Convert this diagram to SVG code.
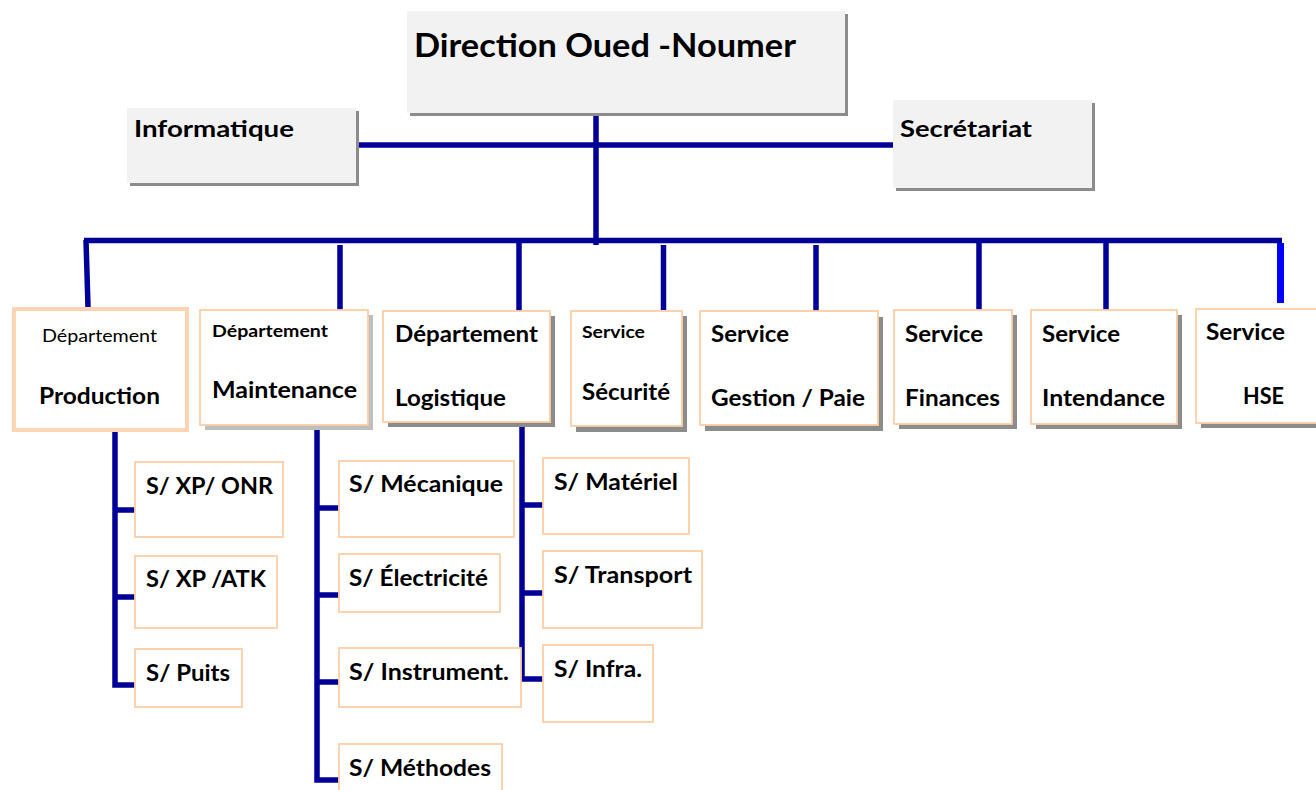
<svg xmlns="http://www.w3.org/2000/svg" width="1316" height="790" viewBox="0 0 1316 790">
<style>
text{font-family:Lato,"Liberation Sans",sans-serif;font-weight:bold;fill:#000}
.reg{font-weight:normal}
.top{fill:#f2f2f2;stroke:none}
.sh{fill:#8c8c8c}
.shl{fill:#bfbfbf}
.box{fill:#fff;stroke:#fbd0a6;stroke-width:1.8}
.ln{stroke:#000099;stroke-width:5.5;fill:none}
</style>
<rect width="1316" height="790" fill="#fff"/>
<g id="connectors">
<line class="ln" x1="357" y1="145" x2="893" y2="145"/>
<line class="ln" x1="596" y1="116" x2="596" y2="245"/>
<line class="ln" x1="84" y1="240.5" x2="1282" y2="240.5"/>
<line class="ln" x1="86" y1="240" x2="88" y2="307"/>
<line class="ln" x1="340" y1="245" x2="340" y2="310"/>
<line class="ln" x1="519" y1="243" x2="519" y2="311"/>
<line class="ln" x1="663.5" y1="245" x2="663.5" y2="310"/>
<line class="ln" x1="816" y1="245" x2="816" y2="311"/>
<line class="ln" x1="979" y1="243" x2="979" y2="310"/>
<line class="ln" x1="1106" y1="243" x2="1106" y2="310"/>
<line x1="1280.5" y1="243" x2="1280.5" y2="303" stroke="#0000ff" stroke-width="7"/>
<path class="ln" d="M115 430 V685 H135 M115 510 H135 M115 597 H135"/>
<path class="ln" d="M317 427 V780 H339 M317 508 H339 M317 595 H339 M317 682 H339"/>
<path class="ln" d="M522 424 V679 H543 M522 505 H543 M522 593 H543"/>
</g>
<g id="direction">
<rect class="sh" x="410" y="14" width="438" height="102"/>
<rect class="top" x="407" y="11" width="438" height="102"/>
<text x="414" y="57" font-size="32" textLength="382" lengthAdjust="spacingAndGlyphs">Direction Oued -Noumer</text>
</g>
<g id="informatique">
<rect class="sh" x="130" y="111" width="229" height="75"/>
<rect class="top" x="127" y="108" width="229" height="75"/>
<text x="134" y="137" font-size="23" textLength="160" lengthAdjust="spacingAndGlyphs">Informatique</text>
</g>
<g id="secretariat">
<rect class="sh" x="896" y="103" width="199" height="88"/>
<rect class="top" x="893" y="100" width="199" height="88"/>
<text x="900" y="137" font-size="23" textLength="132" lengthAdjust="spacingAndGlyphs">Secrétariat</text>
</g>
<g id="production">
<rect x="14" y="309" width="173" height="121" fill="#fff" stroke="#fbd4b4" stroke-width="4"/>
<text class="reg" x="42" y="342" font-size="17" textLength="115" lengthAdjust="spacingAndGlyphs">Département</text>
<text x="39" y="404" font-size="22" textLength="121" lengthAdjust="spacingAndGlyphs">Production</text>
</g>
<g id="maintenance">
<rect class="shl" x="205" y="315" width="168" height="115"/>
<rect class="box" x="200" y="310" width="168" height="115"/>
<text x="212" y="337" font-size="17" textLength="116" lengthAdjust="spacingAndGlyphs">Département</text>
<text x="212" y="398" font-size="22" textLength="145" lengthAdjust="spacingAndGlyphs">Maintenance</text>
</g>
<g id="logistique">
<rect class="sh" x="388" y="316" width="167" height="111"/>
<rect class="box" x="383" y="311" width="167" height="111"/>
<text x="395" y="342" font-size="22" textLength="143" lengthAdjust="spacingAndGlyphs">Département</text>
<text x="395" y="406" font-size="22" textLength="111" lengthAdjust="spacingAndGlyphs">Logistique</text>
</g>
<g id="securite">
<rect class="sh" x="576" y="316" width="111" height="116"/>
<rect class="box" x="571" y="311" width="111" height="115"/>
<text x="582" y="338" font-size="17" textLength="63" lengthAdjust="spacingAndGlyphs">Service</text>
<text x="582" y="400" font-size="22" textLength="88" lengthAdjust="spacingAndGlyphs">Sécurité</text>
</g>
<g id="gestion">
<rect class="sh" x="705" y="317" width="178" height="114"/>
<rect class="box" x="700" y="311" width="178" height="114"/>
<text x="711" y="342" font-size="22" textLength="78" lengthAdjust="spacingAndGlyphs">Service</text>
<text x="711" y="406" font-size="22" textLength="154" lengthAdjust="spacingAndGlyphs">Gestion / Paie</text>
</g>
<g id="finances">
<rect class="sh" x="899" y="315" width="118" height="114"/>
<rect class="box" x="894" y="310" width="118" height="114"/>
<text x="905" y="342" font-size="22" textLength="78" lengthAdjust="spacingAndGlyphs">Service</text>
<text x="905" y="406" font-size="22" textLength="95" lengthAdjust="spacingAndGlyphs">Finances</text>
</g>
<g id="intendance">
<rect class="sh" x="1036" y="315" width="146" height="114"/>
<rect class="box" x="1031" y="310" width="146" height="114"/>
<text x="1042" y="342" font-size="22" textLength="78" lengthAdjust="spacingAndGlyphs">Service</text>
<text x="1042" y="406" font-size="22" textLength="123" lengthAdjust="spacingAndGlyphs">Intendance</text>
</g>
<g id="hse">
<rect class="sh" x="1201" y="314" width="130" height="114"/>
<rect class="box" x="1196" y="309" width="130" height="114"/>
<text x="1206" y="340" font-size="22" textLength="79" lengthAdjust="spacingAndGlyphs">Service</text>
<text x="1243" y="404" font-size="22" textLength="41" lengthAdjust="spacingAndGlyphs">HSE</text>
</g>
<g id="xp-onr">
<rect class="box" x="135" y="462" width="148" height="75"/>
<text x="146" y="494" font-size="22" textLength="127" lengthAdjust="spacingAndGlyphs">S/ XP/ ONR</text>
</g>
<g id="xp-atk">
<rect class="box" x="135" y="556" width="142" height="72"/>
<text x="146" y="587" font-size="22" textLength="120" lengthAdjust="spacingAndGlyphs">S/ XP /ATK</text>
</g>
<g id="puits">
<rect class="box" x="135" y="649" width="107" height="58"/>
<text x="146" y="681" font-size="22" textLength="84" lengthAdjust="spacingAndGlyphs">S/ Puits</text>
</g>
<g id="mecanique">
<rect class="box" x="339" y="461" width="175" height="76"/>
<text x="349" y="492" font-size="22" textLength="154" lengthAdjust="spacingAndGlyphs">S/ Mécanique</text>
</g>
<g id="electricite">
<rect class="box" x="339" y="554" width="161" height="58"/>
<text x="349" y="586" font-size="22" textLength="139" lengthAdjust="spacingAndGlyphs">S/ Électricité</text>
</g>
<g id="instrument">
<rect class="box" x="339" y="648" width="182" height="59"/>
<text x="349" y="680" font-size="22" textLength="160" lengthAdjust="spacingAndGlyphs">S/ Instrument.</text>
</g>
<g id="methodes">
<rect class="box" x="339" y="744" width="163" height="50"/>
<text x="349" y="776" font-size="22" textLength="142" lengthAdjust="spacingAndGlyphs">S/ Méthodes</text>
</g>
<g id="materiel">
<rect class="box" x="543" y="458" width="146" height="76"/>
<text x="554" y="490" font-size="22" textLength="124" lengthAdjust="spacingAndGlyphs">S/ Matériel</text>
</g>
<g id="transport">
<rect class="box" x="543" y="551" width="159" height="77"/>
<text x="554" y="583" font-size="22" textLength="138" lengthAdjust="spacingAndGlyphs">S/ Transport</text>
</g>
<g id="infra">
<rect class="box" x="543" y="645" width="110" height="77"/>
<text x="554" y="677" font-size="22" textLength="88" lengthAdjust="spacingAndGlyphs">S/ Infra.</text>
</g>
</svg>
